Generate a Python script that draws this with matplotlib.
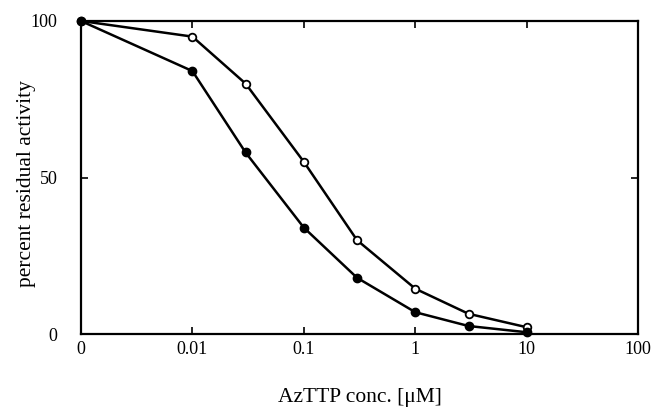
import matplotlib
matplotlib.use("Agg")
import matplotlib.pyplot as plt

plt.rcParams['font.family'] = ['Liberation Serif', 'DejaVu Serif']

# concentrations (uM); 0 is drawn at the 0.001 position of the log axis
conc = [0.001, 0.01, 0.03, 0.1, 0.3, 1, 3, 10]
open_vals = [100, 95, 80, 55, 30, 14.5, 6.5, 2.2]
filled_vals = [100, 84, 58, 34, 18, 7, 2.6, 0.6]

xticks = [0.001, 0.01, 0.1, 1, 10, 100]
xticklabels = ['0', '0.01', '0.1', '1', '10', '100']
yticks = [0, 50, 100]

fig = plt.figure(figsize=(6.58, 4.11), dpi=100)
ax = fig.add_axes([0.123, 0.187, 0.847, 0.762])

ax.plot(conc, open_vals, color='black', lw=1.8, marker='o', ms=5.5,
        mfc='white', mec='black', mew=1.3, clip_on=False, zorder=3)
ax.plot(conc, filled_vals, color='black', lw=1.8, marker='o', ms=6,
        mfc='black', mec='black', clip_on=False, zorder=4)

ax.set_xscale('log')
ax.set_xlim(0.001, 100)
ax.set_ylim(0, 100)
ax.set_xticks(xticks)
ax.set_xticklabels(xticklabels)
ax.minorticks_off()
ax.set_yticks(yticks)
ax.tick_params(direction='in', length=5, width=1.2, labelsize=13,
               top=True, right=True, pad=5)
ax.tick_params(axis='y', pad=17)
for s in ax.spines.values():
    s.set_linewidth(1.6)

ax.set_xlabel('AzTTP conc. [\u03bcM]', fontsize=15.5)
ax.set_ylabel('percent residual activity', fontsize=15.5)
ax.xaxis.set_label_coords(0.5, -0.172)
ax.yaxis.set_label_coords(-0.081, 0.48)

fig.savefig('out.png', dpi=100)
